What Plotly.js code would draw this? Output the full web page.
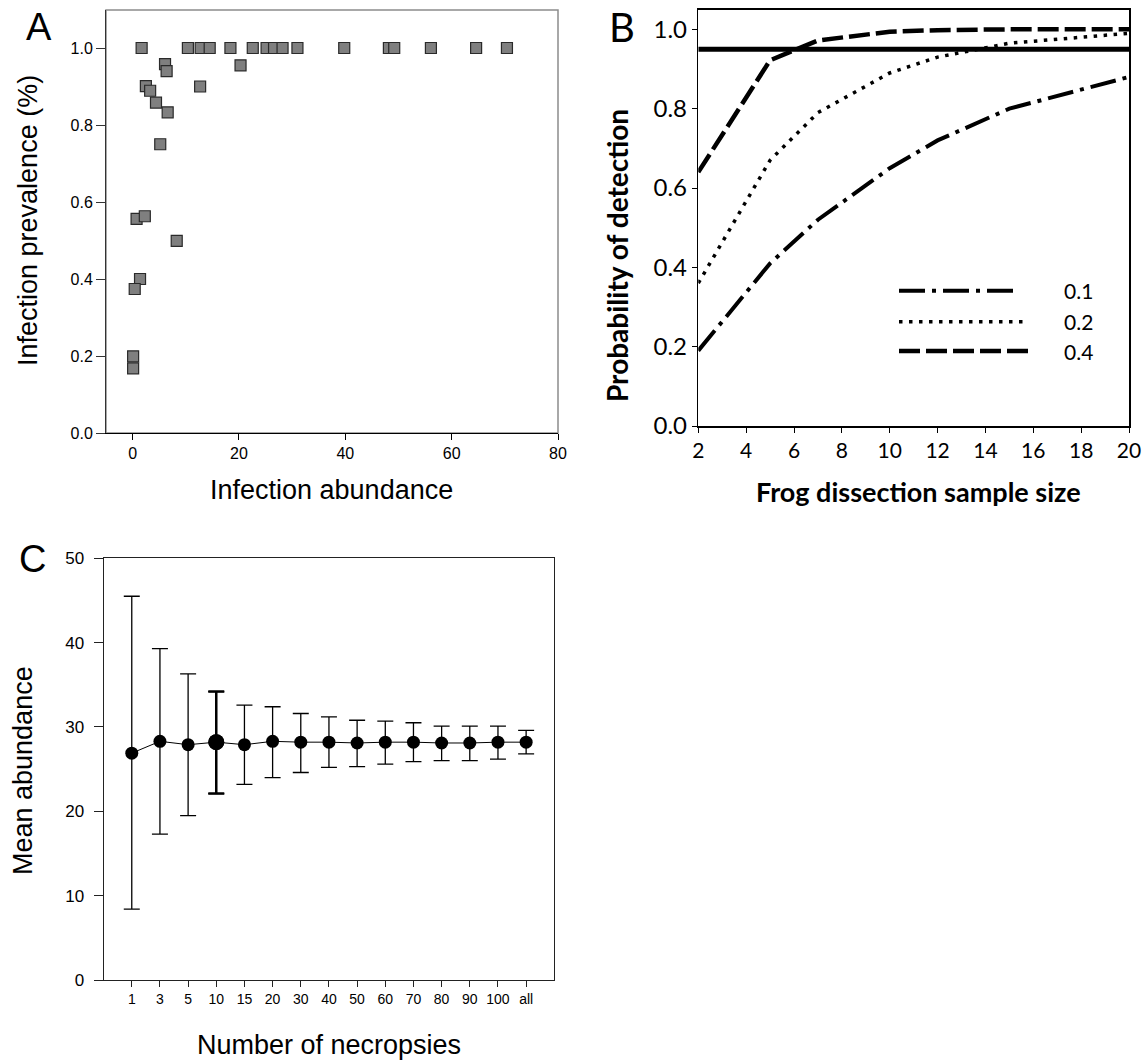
<!DOCTYPE html>
<html><head><meta charset="utf-8">
<script src="https://cdn.plot.ly/plotly-3.0.1.min.js"></script>
<style>html,body{margin:0;padding:0;background:#fff}</style>
</head><body>
<div id="chart" style="width:1143px;height:1062px"></div>
<script>
// ---------- Panel A data ----------
const abundance = [1.7, 10.4, 12.8, 14.5, 18.4, 22.6, 25.2, 26.6, 28.2, 31.0, 39.8, 48.2, 49.2, 56.1, 64.6, 70.4,
  6.1, 6.4, 20.3, 2.5, 3.3, 12.7, 4.4, 6.6, 5.2, 0.75, 2.3, 8.3, 1.4, 0.4, 0.1, 0.1];
const prevalence = [1, 1, 1, 1, 1, 1, 1, 1, 1, 1, 1, 1, 1, 1, 1, 1,
  0.958, 0.940, 0.955, 0.901, 0.889, 0.900, 0.858, 0.833, 0.750, 0.556, 0.563, 0.499, 0.400, 0.374, 0.199, 0.168];

// ---------- Panel B data ----------
const sampleSize = [2, 5, 7, 10, 12, 15, 20];
const detect01 = [0.19, 0.41, 0.52, 0.65, 0.72, 0.80, 0.88];
const detect02 = [0.36, 0.67, 0.79, 0.89, 0.93, 0.965, 0.99];
const detect04 = [0.64, 0.922, 0.972, 0.994, 0.998, 1.0, 1.0];
const thresholdX = [2, 20];
const thresholdY = [0.95, 0.95];
const legendLabels = ['0.1', '0.2', '0.4'];

// ---------- Panel C data ----------
const necropsies = ['1', '3', '5', '10', '15', '20', '30', '40', '50', '60', '70', '80', '90', '100', 'all'];
const meanAbund = [26.9, 28.3, 27.9, 28.2, 27.9, 28.3, 28.2, 28.2, 28.1, 28.2, 28.2, 28.1, 28.1, 28.2, 28.2];
const upperCI = [45.5, 39.3, 36.3, 34.2, 32.6, 32.4, 31.6, 31.2, 30.8, 30.7, 30.5, 30.1, 30.1, 30.1, 29.6];
const lowerCI = [8.4, 17.3, 19.5, 22.1, 23.2, 24.0, 24.6, 25.2, 25.3, 25.6, 25.9, 26.0, 26.0, 26.2, 26.8];
const highlightCat = '10';

// ---------- helpers ----------
const W = 1143, H = 1062;
const px = x => x / W;
const py = y => 1 - y / H;
const ARIAL = 'Liberation Sans, Arial, sans-serif';
const CALIBRI = 'Lato, Carlito, Calibri, sans-serif';

const hi = necropsies.indexOf(highlightCat);
const errPlus = upperCI.map((u, i) => u - meanAbund[i]);
const errMinus = lowerCI.map((l, i) => meanAbund[i] - l);
const markerSizes = necropsies.map((c, i) => i === hi ? 16 : 13);

const traces = [
  { type: 'scatter', mode: 'markers', x: abundance, y: prevalence, xaxis: 'x', yaxis: 'y',
    marker: { symbol: 'square', size: 11, color: '#7f7f7f', opacity: 1, line: { color: '#2a2a2a', width: 1.2 } },
    hoverinfo: 'x+y' },
  { type: 'scatter', mode: 'lines', x: thresholdX, y: thresholdY, xaxis: 'x2', yaxis: 'y2',
    line: { color: '#000', width: 5 } },
  { type: 'scatter', mode: 'lines', x: sampleSize, y: detect01, xaxis: 'x2', yaxis: 'y2',
    line: { color: '#000', width: 4, dash: '26px,7px,4px,7px' }, name: legendLabels[0] },
  { type: 'scatter', mode: 'lines', x: sampleSize, y: detect02, xaxis: 'x2', yaxis: 'y2',
    line: { color: '#000', width: 3.5, dash: '3.5px,6.5px' }, name: legendLabels[1] },
  { type: 'scatter', mode: 'lines', x: sampleSize, y: detect04, xaxis: 'x2', yaxis: 'y2',
    line: { color: '#000', width: 4.5, dash: '21px,6px' }, name: legendLabels[2] },
  { type: 'scatter', mode: 'lines+markers', x: necropsies, y: meanAbund, xaxis: 'x3', yaxis: 'y3',
    line: { color: '#000', width: 1 },
    marker: { color: '#000', size: markerSizes, opacity: 1, line: { width: 0 } },
    error_y: { type: 'data', symmetric: false, array: errPlus, arrayminus: errMinus,
      color: '#000', thickness: 1.3, width: 8 } },
  { type: 'scatter', mode: 'markers', x: [necropsies[hi]], y: [meanAbund[hi]], xaxis: 'x3', yaxis: 'y3',
    marker: { color: '#000', size: 16, opacity: 1 },
    error_y: { type: 'data', symmetric: false, array: [errPlus[hi]], arrayminus: [errMinus[hi]],
      color: '#000', thickness: 2.5, width: 8 } }
];

const baseAxis = { showgrid: false, zeroline: false, showline: true, ticks: 'outside', fixedrange: true };

const legendRows = [290.7, 321.7, 351];
const legendDash = ['26px,7px,4px,7px', '3.5px,6.5px', '21px,6px'];
const legendWidth = [4, 3.5, 4.5];
const legendEnd = [1020, 1024, 1029];

const shapes = [
  { type: 'rect', xref: 'paper', yref: 'paper', x0: px(106), x1: px(558), y0: py(433), y1: py(10),
    line: { color: '#8c8c8c', width: 1.5 }, layer: 'below' }
];
legendRows.forEach((r, i) => shapes.push({
  type: 'line', xref: 'paper', yref: 'paper', x0: px(899), x1: px(legendEnd[i]), y0: py(r), y1: py(r),
  line: { color: '#000', width: legendWidth[i], dash: legendDash[i] }
}));

const annotations = [
  { text: 'A', x: px(39), y: py(27), font: { family: ARIAL, size: 38, color: '#000' } },
  { text: 'B', x: px(622), y: py(27), font: { family: CALIBRI, size: 40, color: '#000' } },
  { text: 'C', x: px(32), y: py(559), font: { family: ARIAL, size: 38, color: '#000' } },
  { text: 'Infection prevalence (%)', x: px(28), y: py(221), textangle: -90, font: { family: ARIAL, size: 27, color: '#000' } },
  { text: 'Infection abundance', x: px(331), y: py(490), font: { family: ARIAL, size: 27, color: '#000' } },
  { text: '<b>Probability of detection</b>', x: px(617), y: py(256), textangle: -90, font: { family: CALIBRI, size: 28, color: '#000' } },
  { text: '<b>Frog dissection sample size</b>', x: px(918), y: py(491), font: { family: CALIBRI, size: 27, color: '#000' } },
  { text: 'Mean abundance', x: px(23), y: py(771), textangle: -90, font: { family: ARIAL, size: 27, color: '#000' } },
  { text: 'Number of necropsies', x: px(329), y: py(1045), font: { family: ARIAL, size: 27, color: '#000' } }
].map(a => Object.assign({ xref: 'paper', yref: 'paper', showarrow: false, xanchor: 'center', yanchor: 'middle' }, a));
legendLabels.forEach((t, i) => annotations.push({
  text: t, xref: 'paper', yref: 'paper', x: px(1062), y: py(legendRows[i]), showarrow: false,
  xanchor: 'left', yanchor: 'middle', font: { family: CALIBRI, size: 21, color: '#000' }
}));

const layout = {
  width: W, height: H, margin: { l: 0, r: 0, t: 0, b: 0 },
  paper_bgcolor: '#fff', plot_bgcolor: '#fff', showlegend: false,
  xaxis: Object.assign({}, baseAxis, { domain: [px(106), px(558)], range: [-5, 80], tickvals: [0, 20, 40, 60, 80],
    ticklen: 6, tickcolor: '#000', linecolor: '#000', linewidth: 1, anchor: 'y',
    tickfont: { family: ARIAL, size: 16, color: '#000' } }),
  yaxis: Object.assign({}, baseAxis, { domain: [py(433), py(10)], range: [0, 1.0987], tickvals: [0, 0.2, 0.4, 0.6, 0.8, 1.0],
    tickformat: '.1f', ticklen: 9, tickcolor: '#333', linecolor: '#333', linewidth: 1, anchor: 'x',
    tickfont: { family: ARIAL, size: 16, color: '#000' } }),
  xaxis2: Object.assign({}, baseAxis, { domain: [px(698.3), px(1129)], range: [2, 20], tick0: 2, dtick: 2,
    ticklen: 5, tickcolor: '#000', linecolor: '#000', linewidth: 1.5, mirror: true, anchor: 'y2',
    tickfont: { family: CALIBRI, size: 21, color: '#000' } }),
  yaxis2: Object.assign({}, baseAxis, { domain: [py(426), py(9.5)], range: [0, 1.05], tick0: 0, dtick: 0.2,
    tickformat: '.1f', ticklen: 5, tickcolor: '#000', linecolor: '#000', linewidth: 1.5, mirror: true, anchor: 'x2',
    tickfont: { family: CALIBRI, size: 24, color: '#000' } }),
  xaxis3: Object.assign({}, baseAxis, { type: 'category', domain: [px(103.6), px(554.3)], range: [-1, 15],
    ticklen: 6, tickcolor: '#222', linecolor: '#222', linewidth: 1, mirror: true, anchor: 'y3',
    tickfont: { family: ARIAL, size: 14, color: '#000' } }),
  yaxis3: Object.assign({}, baseAxis, { domain: [py(980), py(558.3)], range: [0, 50], tick0: 0, dtick: 10,
    ticklen: 9, tickcolor: '#222', linecolor: '#222', linewidth: 1, mirror: true, anchor: 'x3',
    ticklabelstandoff: 6,
    tickfont: { family: ARIAL, size: 17, color: '#000' } }),
  shapes: shapes,
  annotations: annotations
};

Plotly.newPlot('chart', traces, layout, { displayModeBar: false, staticPlot: true });
</script>
</body></html>
